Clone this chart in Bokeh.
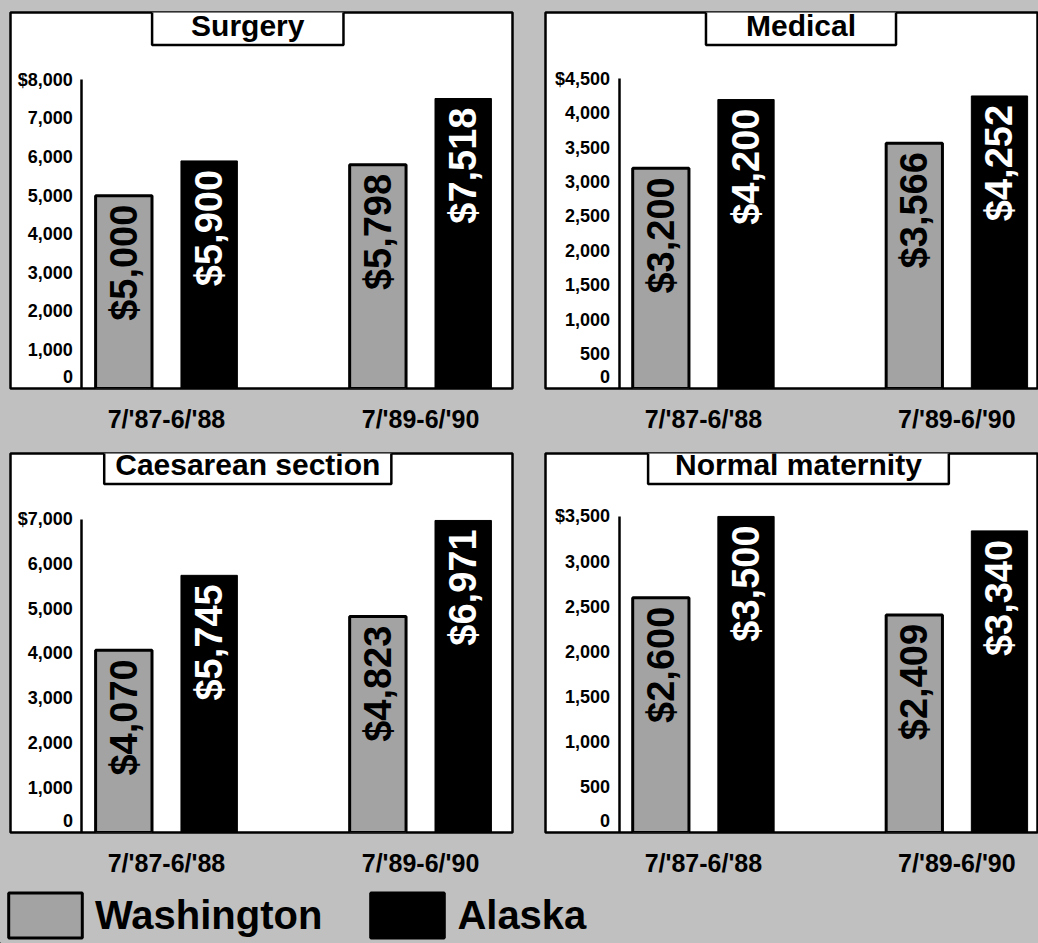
import math
from bokeh.plotting import figure
from bokeh.models import (ColumnDataSource, Range1d, FixedTicker, NumeralTickFormatter,
                          Label, Legend, LegendItem)
from bokeh.transform import dodge
from bokeh.layouts import row, column
from bokeh.core.properties import value
from bokeh.embed import file_html
from bokeh.resources import INLINE

# ---------------- data ----------------
periods = ["7/'87-6/'88", "7/'89-6/'90"]
series = ["Washington", "Alaska"]
titles = ["Surgery", "Medical", "Caesarean section", "Normal maternity"]

surgery_wa = [5000, 5798]
surgery_ak = [5900, 7518]
medical_wa = [3200, 3566]
medical_ak = [4200, 4252]
caesarean_wa = [4070, 4823]
caesarean_ak = [5745, 6971]
maternity_wa = [2600, 2409]
maternity_ak = [3500, 3340]

axis_max = [8000, 4500, 7000, 3500]
axis_step = [1000, 500, 1000, 500]

# ---------------- style ----------------
BG = "#c0c0c0"
GREY = "#a3a3a3"
FONT = "Liberation Sans"
BGSTYLE = {"background-color": BG}


def panel(title, wa, ak, ymax, step, width, height, y_end, x_start, x_end,
          mb_left, mb_right, mb_top, mb_bottom, title_x, title_drop, title_pad_h):
    p = figure(width=width, height=height, output_backend="svg", toolbar_location=None,
               x_range=Range1d(x_start, x_end), y_range=Range1d(0, y_end),
               min_border_left=mb_left, min_border_right=mb_right,
               min_border_top=mb_top, min_border_bottom=mb_bottom,
               styles=BGSTYLE)
    p.background_fill_color = "white"
    p.border_fill_color = BG
    p.outline_line_color = "black"
    p.outline_line_width = 2.5
    p.xgrid.visible = False
    p.ygrid.visible = False

    src = ColumnDataSource(dict(
        x=[0, 1], wa=wa, ak=ak,
        wa_label=["${:,}".format(v) for v in wa],
        ak_label=["${:,}".format(v) for v in ak],
    ))
    off = 0.168
    bw = 0.222
    p.vbar(x=dodge("x", -off), top="wa", width=bw, bottom=0, source=src,
           fill_color=GREY, line_color="black", line_width=3)
    p.vbar(x=dodge("x", off), top="ak", width=bw, bottom=0, source=src,
           fill_color="black", line_color="black", line_width=1)
    common = dict(angle=math.pi / 2, text_align="right", text_baseline="middle",
                  text_font=value(FONT), text_font_style="bold", text_font_size="38px",
                  y_offset=9, source=src)
    p.text(x=dodge("x", -off), y="wa", text="wa_label", text_color="black", **common)
    p.text(x=dodge("x", off), y="ak", text="ak_label", text_color="white", **common)

    # y axis drawn inside the white panel
    ya = p.yaxis[0]
    ya.fixed_location = -0.333
    ya.bounds = (0, ymax)
    ya.ticker = FixedTicker(ticks=list(range(0, ymax + 1, step)))
    ya.formatter = NumeralTickFormatter(format="0,0")
    ya.major_label_overrides = {ymax: "${:,}".format(ymax), 0: "0\n "}
    ya.axis_line_width = 2.5
    ya.axis_line_color = "black"
    ya.major_tick_line_color = None
    ya.minor_tick_line_color = None
    ya.major_tick_out = 0
    ya.major_tick_in = 0
    ya.minor_tick_out = 0
    ya.major_label_text_font = FONT
    ya.major_label_text_font_style = "bold"
    ya.major_label_text_font_size = "18px"
    ya.major_label_text_color = "black"
    ya.major_label_standoff = 9

    xa = p.xaxis[0]
    xa.ticker = FixedTicker(ticks=[0, 1])
    xa.major_label_overrides = {0: periods[0], 1: periods[1]}
    xa.axis_line_color = None
    xa.major_tick_line_color = None
    xa.minor_tick_line_color = None
    xa.major_label_text_font = FONT
    xa.major_label_text_font_style = "bold"
    xa.major_label_text_font_size = "25px"
    xa.major_label_text_color = "black"
    xa.major_label_standoff = 10

    # boxed title at the panel's top edge
    lab = Label(x=title_x, y=y_end, y_offset=-title_drop, text=title,
                text_align="center", text_baseline="middle",
                text_font=FONT, text_font_style="bold", text_font_size="30px",
                text_color="black",
                background_fill_color="white", border_line_color="black",
                border_line_width=2.5, padding=(title_pad_h, 3))
    p.add_layout(lab)
    return p


p1 = panel(titles[0], surgery_wa, surgery_ak, axis_max[0], axis_step[0],
           528, 438, 9748, -0.614, 1.362, 10, 16, 12, 50, 0.32, 13, 39)
p2 = panel(titles[1], medical_wa, medical_ak, axis_max[1], axis_step[1],
           510, 438, 5465, -0.623, 1.322, 17, 0, 12, 50, 0.385, 13, 40)
p3 = panel(titles[2], caesarean_wa, caesarean_ak, axis_max[2], axis_step[2],
           528, 444, 8467, -0.614, 1.362, 10, 16, 15, 50, 0.32, 11, 11)
p4 = panel(titles[3], maternity_wa, maternity_ak, axis_max[3], axis_step[3],
           510, 444, 4197, -0.623, 1.322, 17, 0, 15, 50, 0.375, 11, 27)

# ---------------- legend strip ----------------
leg = figure(width=1038, height=61, output_backend="svg", toolbar_location=None,
             x_axis_type=None, y_axis_type=None, min_border=0,
             x_range=Range1d(0, 1), y_range=Range1d(0, 1), styles=BGSTYLE)
leg.background_fill_color = BG
leg.border_fill_color = BG
leg.outline_line_color = None
leg.xgrid.visible = False
leg.ygrid.visible = False
# legend-only renderers, placed outside the visible range
key_src = ColumnDataSource(dict(x=[-10], top=[0]))
r_wa = leg.vbar(x="x", top="top", width=0.1, source=key_src,
                fill_color=GREY, line_color="black", line_width=3)
r_ak = leg.vbar(x="x", top="top", width=0.1, source=key_src,
                fill_color="black", line_color="black", line_width=3)
legend = Legend(items=[LegendItem(label=series[0], renderers=[r_wa]),
                       LegendItem(label=series[1], renderers=[r_ak])],
                orientation="horizontal", location=(-1, 0),
                glyph_width=92, glyph_height=56, label_height=56,
                label_standoff=4, spacing=39, padding=0, margin=0,
                border_line_color=None, background_fill_alpha=0,
                label_text_font=FONT, label_text_font_style="bold",
                label_text_font_size="40px", label_text_color="black",
                label_text_baseline="middle")
leg.add_layout(legend, "center")

layout = column(row(p1, p2, styles=BGSTYLE), row(p3, p4, styles=BGSTYLE), leg,
                styles=BGSTYLE)

open("out.html", "w").write(file_html(layout, INLINE))
